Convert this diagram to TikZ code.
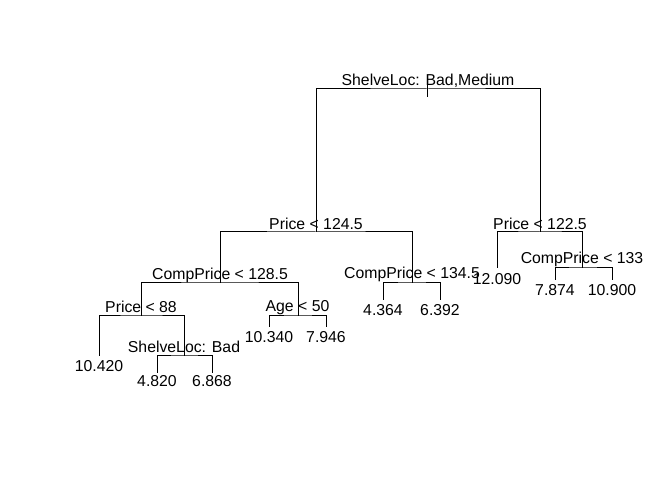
\documentclass[tikz,border=0pt]{standalone}
\usepackage{fontspec}
\setmainfont{Liberation Sans}
\tikzset{
  branch/.style={line width=1bp, line cap=rect},
  splitlbl/.style={anchor=base, inner sep=0pt, font=\fontsize{15.8bp}{19bp}\selectfont},
  leaflbl/.style={anchor=base, inner sep=0pt, font=\fontsize{15.8bp}{19bp}\selectfont}
}
\begin{document}
\begin{tikzpicture}[x=1bp,y=-1bp]
\useasboundingbox (0,0) rectangle (672,480);
% split points
\coordinate (root) at (427.5,89);
\coordinate (rootT) at (427,86);
\coordinate (rootB) at (427,97);
\coordinate (pA) at (316,232);
\coordinate (pB) at (540,232);
\coordinate (cA) at (220,282);
\coordinate (cB) at (412,282);
\coordinate (pC) at (141,315);
\coordinate (age) at (298,315);
\coordinate (shelf) at (184,355);
\coordinate (cC) at (582,267);
% leaf ends
\coordinate (l1) at (99,355.5);
\coordinate (l2) at (157,372);
\coordinate (l3) at (212,372);
\coordinate (l4) at (269,326);
\coordinate (l5) at (326,326);
\coordinate (l6) at (383,299);
\coordinate (l7) at (440,299);
\coordinate (l8) at (497,267);
\coordinate (l9) at (555,279.3);
\coordinate (l10) at (612,279.3);
% branches
\draw[branch] (rootT) -- (rootB);
\draw[branch] (pA) |- (root) -| (pB);
\draw[branch] (cA) |- (pA) -| (cB);
\draw[branch] (pC) |- (cA) -| (age);
\draw[branch] (l1) |- (pC) -| (shelf);
\draw[branch] (l2) |- (shelf) -| (l3);
\draw[branch] (l4) |- (age) -| (l5);
\draw[branch] (l6) |- (cB) -| (l7);
\draw[branch] (l8) |- (pB) -| (cC);
\draw[branch] (l9) |- (cC) -| (l10);
% split labels
\node[splitlbl] (troot) at (428,86) {ShelveLoc: Bad,Medium};
\node[splitlbl] (tpA) at (316,229.3) {Price < 124.5};
\node[splitlbl] (tpB) at (540,229.3) {Price < 122.5};
\node[splitlbl] (tcA) at (220,279) {CompPrice < 128.5};
\node[splitlbl] (tcB) at (412,278.5) {CompPrice < 134.5};
\node[splitlbl] (tpC) at (141,312) {Price < 88};
\node[splitlbl] (tage) at (297.5,311) {Age < 50};
\node[splitlbl] (tshelf) at (184,352.7) {ShelveLoc: Bad};
\node[splitlbl] (tcC) at (582,263.3) {CompPrice < 133};
% leaf labels
\node[leaflbl] (v1) at (99,371.7) {10.420};
\node[leaflbl] (v2) at (157,386.7) {4.820};
\node[leaflbl] (v3) at (212,386.7) {6.868};
\node[leaflbl] (v4) at (269,342.3) {10.340};
\node[leaflbl] (v5) at (326,342.3) {7.946};
\node[leaflbl] (v6) at (383,315.7) {4.364};
\node[leaflbl] (v7) at (440,315.7) {6.392};
\node[leaflbl] (v8) at (497,284.3) {12.090};
\node[leaflbl] (v9) at (555,295) {7.874};
\node[leaflbl] (v10) at (612,295) {10.900};
\end{tikzpicture}
\end{document}
